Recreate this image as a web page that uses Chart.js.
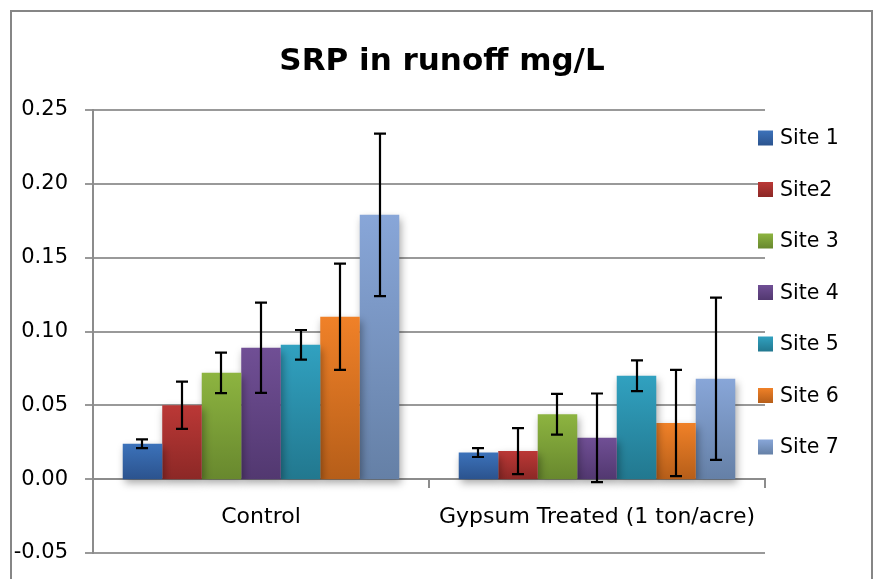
<!DOCTYPE html>
<html>
<head>
<meta charset="utf-8">
<script src="https://cdn.jsdelivr.net/npm/chart.js@4/dist/chart.umd.min.js"></script>
<style>
  html, body { margin: 0; padding: 0; background: #ffffff; }
  #wrap { position: relative; width: 877px; height: 579px; }
  canvas { display: block; }
</style>
</head>
<body>
<div id="wrap"><canvas id="c" width="877" height="579"></canvas></div>
<script>
// ---- data ----
const chartTitle = 'SRP in runoff mg/L';
const categories = ['Control', 'Gypsum Treated (1 ton/acre)'];
const siteNames = ['Site 1', 'Site2', 'Site 3', 'Site 4', 'Site 5', 'Site 6', 'Site 7'];
const controlMeans = [0.024, 0.050, 0.072, 0.089, 0.091, 0.110, 0.179];
const controlErrors = [0.003, 0.016, 0.0137, 0.0305, 0.010, 0.036, 0.055];
const gypsumMeans = [0.018, 0.019, 0.044, 0.028, 0.070, 0.038, 0.068];
const gypsumErrors = [0.003, 0.0156, 0.0138, 0.030, 0.0104, 0.036, 0.055];
const yMin = -0.05;
const yMax = 0.25;
const yStep = 0.05;

// ---- styles ----
const topColors = ['#3c72ba', '#bb3836', '#8db440', '#704f95', '#31a1c0', '#f08128', '#88a6d8'];
const bottomColors = ['#2b538e', '#8c2826', '#68882e', '#523870', '#22788f', '#b65e19', '#6580a6'];
const FONT = "'DejaVu Sans', sans-serif";

function barGradient(i) {
  return function (ctx) {
    const chart = ctx.chart;
    const ys = chart.scales && chart.scales.y;
    if (!ys || ctx.raw === undefined) return topColors[i];
    const top = ys.getPixelForValue(ctx.raw);
    const base = ys.getPixelForValue(0);
    if (!isFinite(top) || !isFinite(base) || top === base) return topColors[i];
    const g = chart.ctx.createLinearGradient(0, top, 0, base);
    g.addColorStop(0, topColors[i]);
    g.addColorStop(1, bottomColors[i]);
    return g;
  };
}

const datasets = siteNames.map((name, i) => ({
  label: name,
  data: [controlMeans[i], gypsumMeans[i]],
  errors: [controlErrors[i], gypsumErrors[i]],
  backgroundColor: barGradient(i),
  legendColor: [topColors[i], bottomColors[i]],
  borderWidth: 0,
  categoryPercentage: 0.823,
  barPercentage: 1.0
}));

const frameAndShadow = {
  id: 'frameAndShadow',
  beforeDraw(chart) {
    const c = chart.ctx;
    c.save();
    c.fillStyle = '#ffffff';
    c.fillRect(0, 0, chart.width, chart.height);
    c.strokeStyle = '#868686';
    c.lineWidth = 2;
    c.strokeRect(11, 11, 861, 640);
    // title
    c.fillStyle = '#000000';
    c.font = 'bold 31px ' + FONT;
    c.textAlign = 'center';
    c.textBaseline = 'middle';
    c.fillText(chartTitle, 442, 62);
    c.restore();
  },
  beforeDatasetsDraw(chart) {
    const c = chart.ctx;
    c.save();
    c.shadowColor = 'rgba(0,0,0,0.35)';
    c.shadowBlur = 8;
    c.shadowOffsetX = 2;
    c.shadowOffsetY = 4;
  },
  afterDatasetsDraw(chart) {
    const c = chart.ctx;
    c.restore();
    const ys = chart.scales.y;
    c.save();
    c.strokeStyle = '#000000';
    c.lineWidth = 2.2;
    chart.data.datasets.forEach((ds, di) => {
      const meta = chart.getDatasetMeta(di);
      meta.data.forEach((bar, j) => {
        const v = ds.data[j];
        const e = ds.errors[j];
        const x = Math.round(bar.x);
        const yt = ys.getPixelForValue(v + e);
        const yb = ys.getPixelForValue(v - e);
        c.beginPath();
        c.moveTo(x, yt);
        c.lineTo(x, yb);
        c.moveTo(x - 6, yt);
        c.lineTo(x + 6, yt);
        c.moveTo(x - 6, yb);
        c.lineTo(x + 6, yb);
        c.stroke();
      });
    });
    c.restore();
  },
  afterDraw(chart) {
    // legend
    const c = chart.ctx;
    const area = chart.chartArea;
    c.save();
    c.font = '20.5px ' + FONT;
    c.textBaseline = 'middle';
    c.textAlign = 'left';
    chart.data.datasets.forEach((ds, i) => {
      const cy = area.top + 28 + i * 51.5;
      const bx = area.right - 7;
      const g = c.createLinearGradient(0, cy - 7.5, 0, cy + 7.5);
      g.addColorStop(0, ds.legendColor[0]);
      g.addColorStop(1, ds.legendColor[1]);
      c.fillStyle = g;
      c.fillRect(bx, cy - 7.5, 15, 15);
      c.fillStyle = '#000000';
      c.fillText(ds.label, bx + 22, cy + 1);
    });
    c.restore();
  }
};

new Chart(document.getElementById('c'), {
  type: 'bar',
  data: { labels: categories, datasets: datasets },
  plugins: [frameAndShadow],
  options: {
    responsive: false,
    animation: false,
    layout: { padding: { left: 0, right: 112, top: 110, bottom: 26 } },
    plugins: {
      legend: { display: false },
      tooltip: { enabled: false },
      title: { display: false }
    },
    scales: {
      x: {
        position: { y: 0 },
        afterFit(scale) { scale.paddingTop = 0; scale.paddingBottom = 0; },
        grid: {
          offset: true,
          drawOnChartArea: false,
          drawTicks: true,
          tickLength: 8,
          color: '#8c8c8c',
          lineWidth: 2
        },
        border: { display: true, color: '#8c8c8c', width: 2 },
        ticks: {
          color: '#000000',
          font: { family: FONT, size: 22 },
          padding: 17,
          maxRotation: 0,
          autoSkip: false
        }
      },
      y: {
        min: yMin,
        max: yMax,
        afterFit(scale) { scale.width = 93; scale.paddingTop = 0; scale.paddingBottom = 0; },
        ticks: {
          stepSize: yStep,
          color: '#000000',
          font: { family: FONT, size: 21 },
          padding: 17,
          callback: (v) => (Math.abs(v) < 1e-9 ? 0 : Number(v)).toFixed(2)
        },
        grid: {
          color: '#999999',
          lineWidth: 2,
          tickLength: 8
        },
        border: { display: true, color: '#8c8c8c', width: 2 }
      }
    }
  }
});
</script>
</body>
</html>
